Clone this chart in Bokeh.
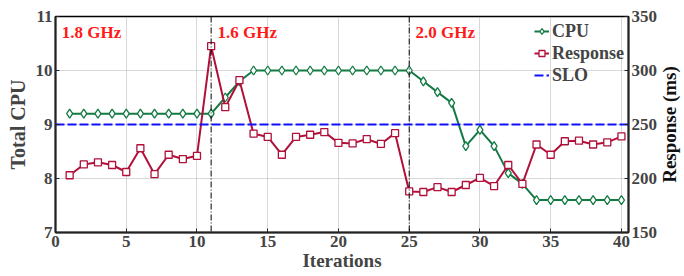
import math
from bokeh.plotting import figure
from bokeh.layouts import row
from bokeh.models import Range1d, LinearAxis, FixedTicker, Span, Label, Legend
from bokeh.embed import file_html
from bokeh.resources import INLINE

iterations = list(range(1, 41))
cpu = [9.2]*10 + [9.2, 9.5, 9.8] + [10.0]*12 + [9.8, 9.6, 9.4, 8.6, 8.9, 8.6, 8.1, 7.9] + [7.6]*7
response = [203, 213, 215, 212.5, 206, 228, 204, 222, 218, 221,
            322.5, 266, 291, 241.5, 238.5, 222, 238.5, 240.5, 243, 233,
            232.5, 236.5, 232, 242, 188, 187.5, 192, 187.5, 194, 200.5,
            193, 212.5, 195, 231.5, 222, 234.5, 235, 231.5, 233.5, 239]
slo_ms = 250
freq_labels = ["1.8 GHz", "1.6 GHz", "2.0 GHz"]
freq_starts = [0, 11, 25]
x_ticks = [0, 5, 10, 15, 20, 25, 30, 35, 40]
cpu_ticks = [7, 8, 9, 10, 11]
resp_ticks = [150, 200, 250, 300, 350]
right_label = "Response (ms)"

FONT = "Liberation Serif"
GREEN = "#137a43"
RED = "#b0103a"
X_END = 40.5
TOP, BOTTOM = 16, 40
FH = 216

p = figure(frame_width=573, frame_height=FH, output_backend="svg", toolbar_location=None,
           x_range=Range1d(0, X_END), y_range=Range1d(7, 11),
           min_border_left=55, min_border_right=31, min_border_top=TOP, min_border_bottom=BOTTOM)
p.extra_y_ranges = {"resp": Range1d(150, 350)}

p.xgrid.ticker = FixedTicker(ticks=x_ticks)
p.ygrid.ticker = FixedTicker(ticks=cpu_ticks)
for g in (p.xgrid, p.ygrid):
    g.grid_line_color = "#b0b0b0"
    g.grid_line_dash = "1 1"
    g.grid_line_width = 1

p.outline_line_color = "black"
p.outline_line_width = 1.5
p.background_fill_color = "white"

def style_axis(ax):
    ax.axis_line_width = 2
    ax.axis_line_color = "#222222"
    ax.major_tick_line_color = "#222222"
    ax.major_tick_in = 4
    ax.major_tick_out = 0
    ax.minor_tick_line_color = None
    ax.major_label_text_font = FONT
    ax.major_label_text_font_style = "bold"
    ax.major_label_text_font_size = "17px"
    ax.axis_label_text_font = FONT
    ax.axis_label_text_font_style = "bold"
    ax.axis_label_text_font_size = "19px"
    ax.major_label_standoff = 3
    ax.axis_label_standoff = 2

p.xaxis.ticker = FixedTicker(ticks=x_ticks)
p.xaxis.axis_label = "Iterations"
p.yaxis.ticker = FixedTicker(ticks=cpu_ticks)
p.yaxis.axis_label = "Total CPU"
style_axis(p.xaxis[0])
style_axis(p.yaxis[0])
p.xaxis[0].axis_label_standoff = 0
p.yaxis[0].axis_label_standoff = 4
p.yaxis[0].axis_label_text_font_size = "20px"

ra = LinearAxis(y_range_name="resp", ticker=FixedTicker(ticks=resp_ticks))
style_axis(ra)
p.add_layout(ra, "right")

for xs in freq_starts[1:]:
    p.add_layout(Span(location=xs, dimension="height", line_color="black",
                      line_dash="6 2 1 2", line_width=1))

for lbl, xs in zip(freq_labels, freq_starts):
    p.add_layout(Label(x=xs + 0.45, y=10.70, text=lbl, text_color="#ff1a1a",
                       text_font=FONT, text_font_style="bold", text_font_size="17px",
                       text_baseline="middle"))

cl = p.line(iterations, cpu, line_color=GREEN, line_width=2)
cs = p.scatter(iterations, cpu, marker="diamond", size=9, line_color=GREEN,
               fill_color="white", line_width=1.3)
rl = p.line(iterations, response, y_range_name="resp", line_color=RED, line_width=2)
rs = p.scatter(iterations, response, y_range_name="resp", marker="square", size=7,
               line_color=RED, fill_color="white", line_width=1.3)
sl = p.line([0, X_END], [slo_ms, slo_ms], y_range_name="resp", line_color="#1010ff",
            line_width=2, line_dash="9 3")

legend = Legend(items=[("CPU", [cl, cs]), ("Response", [rl, rs]), ("SLO", [sl])],
                location="top_right")
legend.background_fill_alpha = 0
legend.border_line_color = None
legend.label_text_font = FONT
legend.label_text_font_style = "bold"
legend.label_text_font_size = "18px"
legend.glyph_width = 15
legend.label_standoff = 3
legend.spacing = 0
legend.padding = 0
legend.margin = 4
legend.label_height = 22
legend.glyph_height = 22
p.add_layout(legend, "center")

# narrow companion figure carrying the right axis title (reads bottom-to-top)
LW = 25
q = figure(frame_width=LW, frame_height=FH, output_backend="svg", toolbar_location=None,
           x_range=Range1d(0, LW), y_range=Range1d(7, 11),
           min_border_left=0, min_border_right=0, min_border_top=TOP, min_border_bottom=BOTTOM)
q.axis.visible = False
q.grid.visible = False
q.outline_line_color = None
q.add_layout(Label(x=9, y=9, text=right_label, angle=math.pi / 2,
                   text_font=FONT, text_font_style="bold", text_font_size="19px",
                   text_align="center", text_baseline="middle", text_color="#111111"))

layout = row(p, q, spacing=0)
open("out.html", "w").write(file_html(layout, INLINE))
